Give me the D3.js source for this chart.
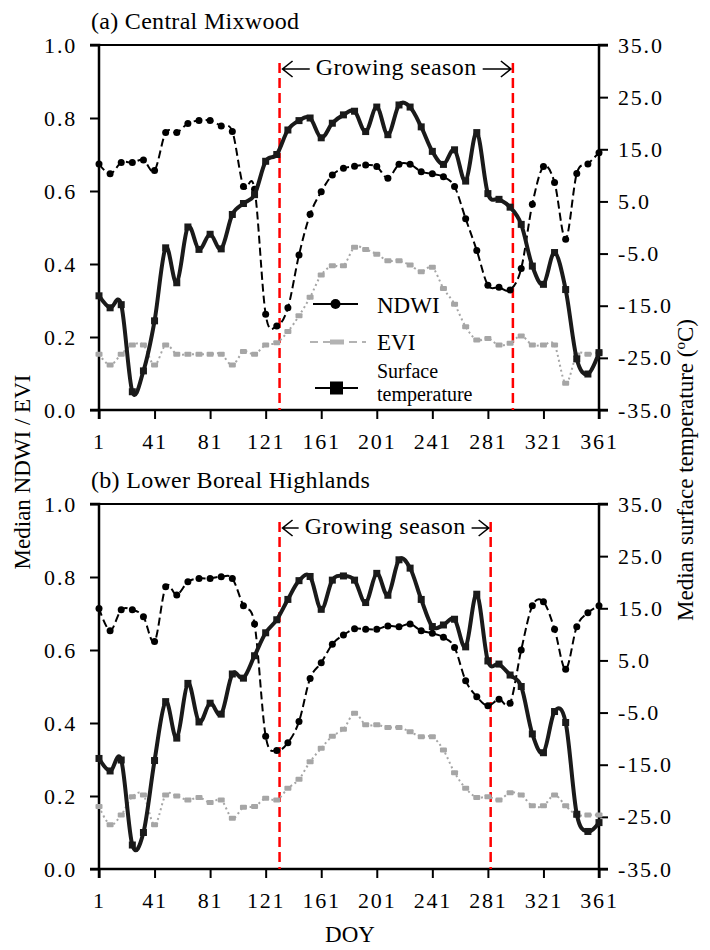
<!DOCTYPE html>
<html>
<head>
<meta charset="utf-8">
<script src="https://cdn.jsdelivr.net/npm/d3@7"></script>
<style>
  body { margin: 0; background: #fff; }
  text { font-family: "Liberation Serif", "Times New Roman", serif; fill: #000; }
</style>
</head>
<body>
<div id="chart"></div>
<script>
// 8-day composites, day of year
const doy = [1, 9, 17, 25, 33, 41, 49, 57, 65, 73, 81, 89, 97, 105, 113, 121, 129, 137, 145, 153, 161, 169, 177,
  185, 193, 201, 209, 217, 225, 233, 241, 249, 257, 265, 273, 281, 289, 297, 305, 313, 321, 329, 337, 345, 353, 361];

// (a) Central Mixwood
const ndwiA = [0.674, 0.647, 0.678, 0.678, 0.685, 0.656, 0.760, 0.760, 0.785, 0.793, 0.793, 0.778, 0.763, 0.612,
  0.605, 0.262, 0.230, 0.280, 0.425, 0.536, 0.598, 0.644, 0.662, 0.668, 0.671, 0.667, 0.635, 0.673, 0.673, 0.653,
  0.647, 0.639, 0.612, 0.524, 0.437, 0.342, 0.336, 0.329, 0.388, 0.564, 0.667, 0.623, 0.468, 0.648, 0.674, 0.705];
const eviA = [0.153, 0.123, 0.153, 0.178, 0.178, 0.123, 0.178, 0.153, 0.153, 0.153, 0.153, 0.153, 0.123, 0.160,
  0.153, 0.178, 0.184, 0.215, 0.258, 0.309, 0.370, 0.395, 0.395, 0.446, 0.440, 0.427, 0.409, 0.409, 0.397, 0.379,
  0.391, 0.333, 0.290, 0.228, 0.192, 0.196, 0.178, 0.183, 0.203, 0.178, 0.178, 0.178, 0.073, 0.151, 0.153, 0.157];
const lstA = [-13.1, -15.4, -14.8, -31.5, -27.5, -17.9, -3.9, -10.6, 0.1, -4.2, -1.3, -4.1, 2.5, 4.6, 6.3, 12.7,
  14.0, 18.7, 20.5, 21.0, 17.2, 20.0, 21.6, 22.3, 18.4, 23.1, 17.8, 23.5, 23.1, 19.3, 14.6, 12.1, 14.9, 8.9, 18.2,
  6.5, 5.4, 3.9, 0.6, -7.4, -10.9, -4.8, -11.9, -25.2, -28.1, -24.0];
const seasonA = [131, 299];

// (b) Lower Boreal Highlands
const ndwiB = [0.714, 0.653, 0.710, 0.710, 0.691, 0.623, 0.773, 0.751, 0.787, 0.796, 0.796, 0.801, 0.796, 0.721,
  0.671, 0.364, 0.325, 0.346, 0.404, 0.522, 0.565, 0.616, 0.641, 0.658, 0.657, 0.657, 0.666, 0.664, 0.671, 0.653,
  0.646, 0.635, 0.607, 0.516, 0.472, 0.447, 0.465, 0.454, 0.600, 0.721, 0.732, 0.657, 0.547, 0.664, 0.702, 0.721];
const eviB = [0.171, 0.121, 0.148, 0.198, 0.203, 0.121, 0.203, 0.200, 0.189, 0.196, 0.182, 0.189, 0.139, 0.169,
  0.171, 0.194, 0.189, 0.221, 0.246, 0.294, 0.331, 0.364, 0.383, 0.427, 0.395, 0.395, 0.388, 0.388, 0.376, 0.362,
  0.362, 0.326, 0.264, 0.221, 0.196, 0.198, 0.189, 0.209, 0.203, 0.173, 0.173, 0.203, 0.173, 0.148, 0.148, 0.148];
const lstB = [-13.8, -16.2, -14.1, -30.4, -28.0, -14.2, -2.9, -9.9, 0.6, -6.8, -3.2, -5.3, 2.4, 1.6, 5.9, 10.3,
  12.8, 16.7, 20.3, 21.1, 14.8, 20.4, 21.2, 20.4, 16.1, 21.7, 17.5, 24.3, 22.7, 16.7, 11.5, 11.8, 12.9, 7.6, 17.7,
  4.9, 4.3, 2.2, 0.0, -9.1, -12.7, -4.8, -6.9, -24.5, -27.8, -26.1];
const seasonB = [131, 283];

const xTicks = [1, 41, 81, 121, 161, 201, 241, 281, 321, 361];
const leftTicks = [0, 0.2, 0.4, 0.6, 0.8, 1.0];
const rightTicks = [-35, -25, -15, -5, 5, 15, 25, 35];
const legendLabels = ["NDWI", "EVI", "Surface", "temperature"];

(function() {
  const W = 710, H = 950;
  const FONT = "'Liberation Serif', 'Times New Roman', serif";
  const svg = d3.select("#chart").append("svg")
    .attr("width", W).attr("height", H)
    .style("display", "block");
  svg.append("rect").attr("width", W).attr("height", H).attr("fill", "#fff");

  const x = d3.scaleLinear().domain([1, 361]).range([99, 599]);
  const curve = d3.curveCatmullRom.alpha(0);

  const panels = [
    { title: "(a) Central Mixwood", top: 45, bottom: 410, ndwi: ndwiA, evi: eviA, lst: lstA, season: seasonA, legend: true },
    { title: "(b) Lower Boreal Highlands", top: 504, bottom: 869, ndwi: ndwiB, evi: eviB, lst: lstB, season: seasonB, legend: false }
  ];

  panels.forEach(p => {
    const g = svg.append("g");
    const yL = d3.scaleLinear().domain([0, 1]).range([p.bottom, p.top]);
    const yR = d3.scaleLinear().domain([-35, 35]).range([p.bottom, p.top]);

    // title
    g.append("text").attr("x", 91).attr("y", p.top - 16)
      .style("font-size", "24px").style("letter-spacing", "0.3px").text(p.title);

    // top frame line
    g.append("line").attr("x1", x(1)).attr("x2", x(361))
      .attr("y1", p.top).attr("y2", p.top)
      .attr("stroke", "#000").attr("stroke-width", 2);

    // axes
    const axL = g.append("g").attr("transform", `translate(${x(1)},0)`)
      .call(d3.axisLeft(yL).tickValues(leftTicks).tickSize(9).tickPadding(13).tickFormat(d3.format(".1f")));
    const axR = g.append("g").attr("transform", `translate(${x(361)},0)`)
      .call(d3.axisRight(yR).tickValues(rightTicks).tickSize(9).tickPadding(10)
        .tickFormat(d => d3.format(".1f")(d).replace("\u2212", "-")));
    const axB = g.append("g").attr("transform", `translate(0,${p.bottom})`)
      .call(d3.axisBottom(x).tickValues(xTicks).tickSize(9).tickPadding(14));
    [axL, axR, axB].forEach(a => {
      a.attr("font-family", FONT).attr("font-size", 22);
      a.select(".domain").attr("stroke", "#000").attr("stroke-width", 2.5);
      a.selectAll(".tick line").attr("stroke", "#000").attr("stroke-width", 2);
      a.selectAll(".tick text").style("font-size", "22px").style("letter-spacing", "1.8px")
        .style("font-family", FONT).attr("fill", "#000");
    });
    axR.select(".domain").attr("d", `M9,${p.top}H0V${p.bottom}H9`);
    axL.select(".domain").attr("d", `M-9,${p.top}H0V${p.bottom}H-9`);
    axB.select(".domain").attr("d", `M${x(1)},9V0H${x(361)}V9`);

    // growing season markers
    p.season.forEach(d => {
      g.append("line").attr("x1", x(d)).attr("x2", x(d))
        .attr("y1", p.top + 18).attr("y2", p.bottom)
        .attr("stroke", "#ff0000").attr("stroke-width", 2.5)
        .attr("stroke-dasharray", "10,5");
    });
    const cx = (x(p.season[0]) + x(p.season[1])) / 2;
    const gs = g.append("text").attr("x", cx).attr("y", p.top + 30)
      .attr("text-anchor", "middle").style("font-size", "24px").style("letter-spacing", "0.4px")
      .text("Growing season");
    const tw = gs.node().getComputedTextLength();
    const ay = p.top + 24;
    const l0 = x(p.season[0]) + 3, l1 = cx - tw / 2 - 6;
    const r0 = cx + tw / 2 + 6, r1 = x(p.season[1]) - 2;
    g.append("path")
      .attr("d", `M${l1},${ay}H${l0}M${l0 + 10},${ay - 8}L${l0},${ay}L${l0 + 10},${ay + 8}` +
                 `M${r0},${ay}H${r1}M${r1 - 10},${ay - 8}L${r1},${ay}L${r1 - 10},${ay + 8}`)
      .attr("fill", "none").attr("stroke", "#000").attr("stroke-width", 1.6);

    // series
    const ptsN = doy.map((d, i) => [x(d), yL(p.ndwi[i])]);
    const ptsE = doy.map((d, i) => [x(d), yL(p.evi[i])]);
    const ptsT = doy.map((d, i) => [x(d), yR(p.lst[i])]);
    const line = d3.line().curve(curve);

    g.append("path").attr("d", line(ptsE)).attr("fill", "none")
      .attr("stroke", "#a6a6a6").attr("stroke-width", 2).attr("stroke-dasharray", "2,3");
    g.selectAll(".evi").data(ptsE).enter().append("rect")
      .attr("x", d => d[0] - 3.5).attr("y", d => d[1] - 2.5)
      .attr("width", 7).attr("height", 5).attr("rx", 1).attr("fill", "#a6a6a6");

    g.append("path").attr("d", line(ptsN)).attr("fill", "none")
      .attr("stroke", "#000").attr("stroke-width", 2).attr("stroke-dasharray", "8,4");
    g.selectAll(".ndwi").data(ptsN).enter().append("circle")
      .attr("cx", d => d[0]).attr("cy", d => d[1]).attr("r", 3.5).attr("fill", "#000");

    g.append("path").attr("d", line(ptsT)).attr("fill", "none")
      .attr("stroke", "#1a1a1a").attr("stroke-width", 4).attr("stroke-linejoin", "round");
    g.selectAll(".lst").data(ptsT).enter().append("rect")
      .attr("x", d => d[0] - 3.5).attr("y", d => d[1] - 3.5)
      .attr("width", 7).attr("height", 7).attr("fill", "#1a1a1a");

    if (p.legend) {
      const lg = g.append("g");
      const lx0 = 313, lx1 = 358, tx = 377;
      // NDWI
      lg.append("line").attr("x1", lx0).attr("x2", lx1).attr("y1", 304).attr("y2", 304)
        .attr("stroke", "#000").attr("stroke-width", 2);
      lg.append("circle").attr("cx", (lx0 + lx1) / 2).attr("cy", 304).attr("r", 5).attr("fill", "#000");
      lg.append("text").attr("x", tx).attr("y", 313).style("font-size", "23px").text(legendLabels[0]);
      // EVI
      lg.append("line").attr("x1", 310).attr("x2", 366).attr("y1", 342).attr("y2", 342)
        .attr("stroke", "#b3b3b3").attr("stroke-width", 2).attr("stroke-dasharray", "8,5");
      lg.append("rect").attr("x", 330).attr("y", 339.5).attr("width", 14).attr("height", 5).attr("fill", "#b3b3b3");
      lg.append("text").attr("x", tx).attr("y", 350).style("font-size", "23px").text(legendLabels[1]);
      // Surface temperature
      lg.append("line").attr("x1", 315).attr("x2", 358).attr("y1", 388).attr("y2", 388)
        .attr("stroke", "#000").attr("stroke-width", 2);
      lg.append("rect").attr("x", 330).attr("y", 381.5).attr("width", 13).attr("height", 13).attr("fill", "#000");
      lg.append("text").attr("x", tx).attr("y", 378).style("font-size", "20px").text(legendLabels[2]);
      lg.append("text").attr("x", tx).attr("y", 401).style("font-size", "20px").text(legendLabels[3]);
    }
  });

  // axis titles
  svg.append("text").attr("transform", "translate(30,472) rotate(-90)")
    .attr("text-anchor", "middle").style("font-size", "23px").text("Median NDWI / EVI");
  const rt = svg.append("text").attr("transform", "translate(693,470) rotate(-90)")
    .attr("text-anchor", "middle").style("font-size", "23px");
  rt.append("tspan").text("Median surface temperature (");
  rt.append("tspan").attr("baseline-shift", "super").style("font-size", "15px").text("o");
  rt.append("tspan").text("C)");
  svg.append("text").attr("x", 350).attr("y", 942).attr("text-anchor", "middle")
    .style("font-size", "23px").text("DOY");
})();
</script>
</body>
</html>
